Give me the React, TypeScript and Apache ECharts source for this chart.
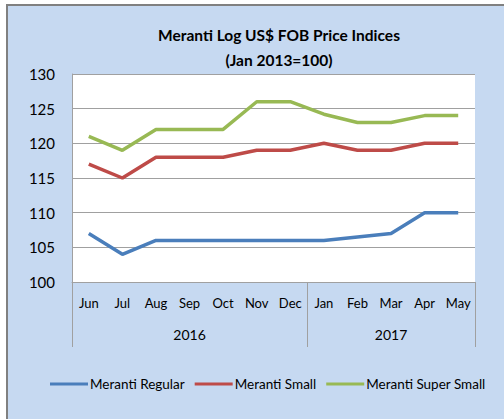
import React, { useEffect, useRef } from "react";
import * as echarts from "echarts";

const months = ["Jun", "Jul", "Aug", "Sep", "Oct", "Nov", "Dec", "Jan", "Feb", "Mar", "Apr", "May"];
const years = ["2016", "2017"];
const yearSpans = [7, 5];
const regular = [107, 104, 106, 106, 106, 106, 106, 106, 106.5, 107, 110, 110];
const small = [117, 115, 118, 118, 118, 119, 119, 120, 119, 119, 120, 120];
const superSmall = [121, 119, 122, 122, 122, 126, 126, 124.2, 123, 123, 124, 124];
const seriesNames = ["Meranti Regular", "Meranti Small", "Meranti Super Small"];
const colors = ["#4a7ebb", "#be4b48", "#98b954"];

const FONT = "Lato";

export default function App() {
  const ref = useRef<HTMLDivElement>(null);
  useEffect(() => {
    if (!ref.current) return;
    const chart = echarts.init(ref.current, null, { renderer: "svg" });
    const bounds: number[] = [0];
    const centers: number[] = [];
    let acc = 0;
    yearSpans.forEach((s) => {
      centers.push(acc + s / 2);
      acc += s;
      bounds.push(acc);
    });
    const data = [regular, small, superSmall];
    chart.setOption({
      animation: false,
      backgroundColor: "#ffffff",
      textStyle: { fontFamily: FONT },
      graphic: [
        {
          type: "rect",
          z: -100,
          shape: { x: 7, y: 5, width: 560, height: 480 },
          style: { fill: "#c6d9f1", stroke: "#808080", lineWidth: 2 },
        },
        {
          type: "text",
          x: 279,
          y: 35,
          style: {
            text: "Meranti Log US$ FOB Price Indices",
            font: `bold 15.5px ${FONT}`,
            fill: "#000",
            textAlign: "center",
            textVerticalAlign: "middle",
          },
        },
        {
          type: "text",
          x: 279,
          y: 60,
          style: {
            text: "(Jan 2013=100)",
            font: `bold 15.5px ${FONT}`,
            fill: "#000",
            textAlign: "center",
            textVerticalAlign: "middle",
          },
        },
      ],
      grid: {
        left: 72,
        right: 29,
        top: 74,
        bottom: 137,
        show: true,
        backgroundColor: "#ffffff",
        borderWidth: 0,
      },
      legend: {
        left: 45,
        top: 372,
        itemWidth: 38,
        itemHeight: 3,
        itemGap: 10,
        icon: "rect",
        textStyle: { fontFamily: FONT, fontSize: 13.5, color: "#000", padding: [0, 0, 0, -3] },
        data: seriesNames,
      },
      xAxis: [
        {
          type: "category",
          data: months,
          boundaryGap: true,
          axisLine: { show: true, lineStyle: { color: "#a0a0a0", width: 1 } },
          axisTick: { show: false },
          axisLabel: { fontFamily: FONT, fontSize: 13, color: "#000", margin: 14, interval: 0 },
          splitLine: { show: false },
        },
        {
          type: "value",
          position: "bottom",
          min: 0,
          max: acc,
          axisLine: { show: false },
          splitLine: { show: false },
          axisTick: {
            show: true,
            customValues: bounds,
            length: 65,
            lineStyle: { color: "#a0a0a0", width: 1 },
          },
          axisLabel: {
            customValues: centers,
            fontFamily: FONT,
            fontSize: 14,
            color: "#000",
            margin: 45,
            formatter: (v: number) => {
              const i = centers.findIndex((c) => Math.abs(c - v) < 1e-6);
              return i >= 0 ? years[i] : "";
            },
          },
        },
      ],
      yAxis: {
        type: "value",
        min: 100,
        max: 130,
        interval: 5,
        axisLine: { show: true, lineStyle: { color: "#a0a0a0", width: 1 } },
        axisTick: { show: false },
        axisLabel: { fontFamily: FONT, fontSize: 15, color: "#000", margin: 17 },
        splitLine: { show: true, lineStyle: { color: "#a0a0a0", width: 1 } },
      },
      series: data.map((d, i) => ({
        name: seriesNames[i],
        type: "line",
        xAxisIndex: 0,
        data: d,
        showSymbol: false,
        symbol: "none",
        lineStyle: { color: colors[i], width: 3.5 },
        itemStyle: { color: colors[i] },
        z: 3 + i,
      })),
    });
    return () => chart.dispose();
  }, []);
  return (
    <div
      ref={ref}
      style={{ position: "fixed", left: 0, top: 0, width: 504, height: 419 }}
    />
  );
}
